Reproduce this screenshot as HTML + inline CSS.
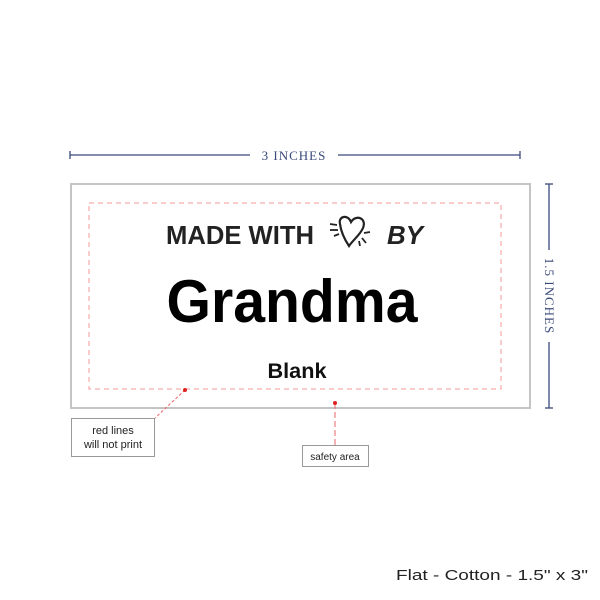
<!DOCTYPE html>
<html><head><style>
body{margin:0;width:600px;height:600px;background:#fff;position:relative;overflow:hidden;font-family:"Liberation Sans",sans-serif}
.a{position:absolute}
</style></head><body>
<svg class="a" style="left:0;top:0" width="600" height="600">
<g stroke="#3a4a7a" stroke-width="1.3" fill="none">
<line x1="70" y1="155" x2="250" y2="155"/><line x1="338" y1="155" x2="520" y2="155"/>
<line x1="70" y1="151" x2="70" y2="159"/><line x1="520" y1="151" x2="520" y2="159"/>
<line x1="549" y1="184" x2="549" y2="250"/><line x1="549" y1="342" x2="549" y2="408"/>
<line x1="545" y1="184" x2="553" y2="184"/><line x1="545" y1="408" x2="553" y2="408"/>
</g>
<text x="294" y="160" font-family="Liberation Serif" font-size="13" fill="#3a4a7a" text-anchor="middle" letter-spacing="1">3 INCHES</text>
<text transform="translate(545,296) rotate(90)" font-family="Liberation Serif" font-size="13" fill="#3a4a7a" text-anchor="middle" letter-spacing="1">1.5 INCHES</text>
<rect x="71" y="184" width="459" height="224" fill="none" stroke="#c4c4c4" stroke-width="2"/>
<rect x="89" y="203" width="412" height="186" fill="none" stroke="#f49a9a" stroke-width="1" stroke-dasharray="5,4"/>
<text x="166" y="244" font-size="26" font-weight="bold" fill="#222" textLength="148" lengthAdjust="spacingAndGlyphs">MADE WITH</text>
<path d="M340 224c-2-8 8-10 11-2c5-8 16-4 12 6c-3 7-10 12-14 18c-4-6-8-14-9-22z" fill="none" stroke="#222" stroke-width="2.2"/>
<g stroke="#222" stroke-width="1.8"><line x1="330" y1="224" x2="337" y2="225"/><line x1="330" y1="230" x2="338" y2="230"/><line x1="334" y1="236" x2="339" y2="234"/><line x1="364" y1="233" x2="370" y2="232"/><line x1="362" y1="238" x2="366" y2="243"/><line x1="359" y1="241" x2="360" y2="246"/></g>
<text x="387" y="244" font-size="26" font-weight="bold" fill="#222" font-style="italic" textLength="36" lengthAdjust="spacingAndGlyphs">BY</text>
<text x="292" y="322" font-size="60" font-weight="bold" fill="#000" text-anchor="middle" textLength="251" lengthAdjust="spacingAndGlyphs">Grandma</text>
<text x="297" y="378" font-size="21" font-weight="bold" fill="#111" text-anchor="middle" textLength="59" lengthAdjust="spacingAndGlyphs">Blank</text>
<line x1="185" y1="390" x2="155" y2="418" stroke="#e66" stroke-width="1" stroke-dasharray="3,2"/>
<circle cx="185" cy="390" r="2" fill="#d22"/>
<line x1="335" y1="403" x2="335" y2="445" stroke="#e66" stroke-width="1" stroke-dasharray="6,3"/>
<circle cx="335" cy="403" r="2" fill="#d22"/>
<rect x="71.5" y="418.5" width="83" height="38" fill="#fff" stroke="#999"/>
<text x="113" y="434" font-size="11" fill="#222" text-anchor="middle">red lines</text>
<text x="113" y="448" font-size="11" fill="#222" text-anchor="middle">will not print</text>
<rect x="302.5" y="445.5" width="66" height="21" fill="#fff" stroke="#999"/>
<text x="335" y="460" font-size="10" fill="#222" text-anchor="middle">safety area</text>
<text x="588" y="580" font-size="15" fill="#222" text-anchor="end" textLength="192" lengthAdjust="spacingAndGlyphs">Flat - Cotton - 1.5" x 3"</text>
</svg>
</body></html>
